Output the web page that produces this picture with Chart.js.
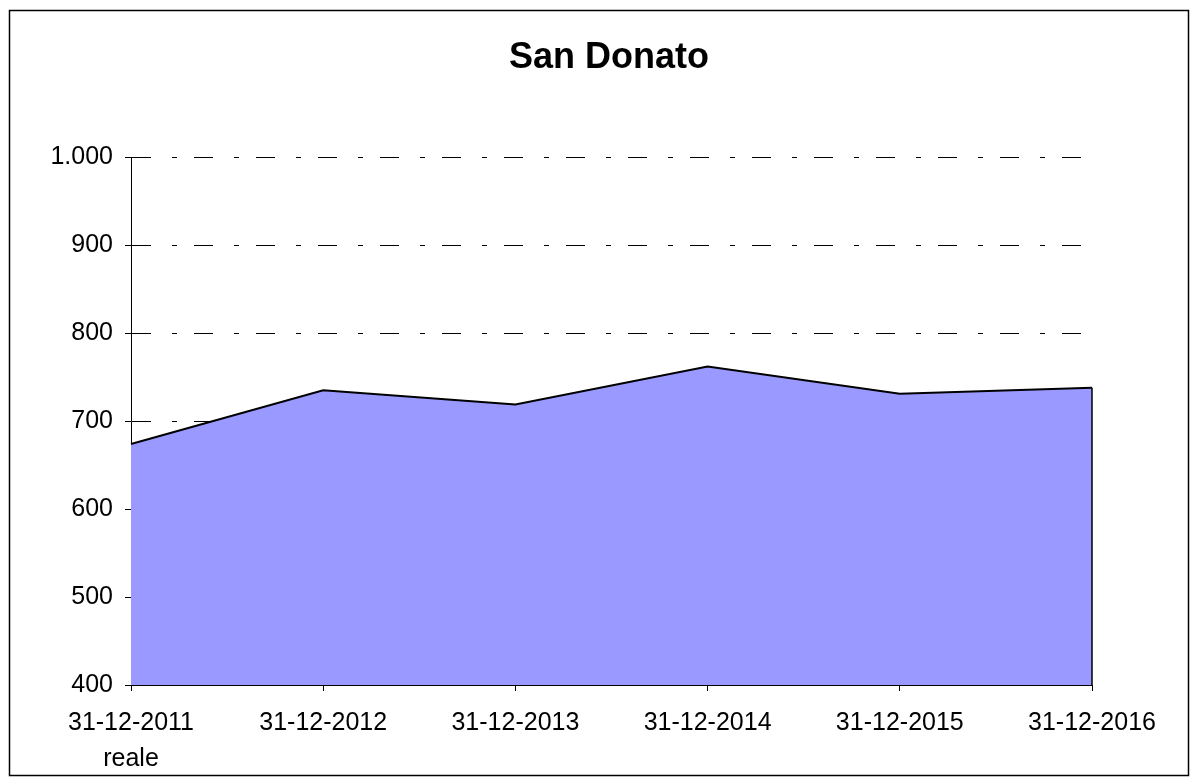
<!DOCTYPE html>
<html>
<head>
<meta charset="utf-8">
<title>San Donato</title>
<script src="https://cdn.jsdelivr.net/npm/chart.js@4"></script>
<style>
    body { margin: 0; background: #fff; }
    canvas { display: block; }
</style>
</head>
<body>
<canvas id="areaChart" width="1196" height="783"></canvas>
<script>
// dati
const dates = ['31-12-2011', '31-12-2012', '31-12-2013', '31-12-2014', '31-12-2015', '31-12-2016'];
const firstSubLabel = 'reale';
const values = [674, 735, 719, 762, 731, 738];
const yMin = 400, yMax = 1000, yStep = 100;

const FONT = '"Liberation Sans", Arial, sans-serif';

// 1000 -> "1.000"
function fmtIt(v) {
    return String(v).replace(/\B(?=(\d{3})+(?!\d))/g, '.');
}

const labels = dates.map((d, i) => i === 0 ? [d, firstSubLabel] : d);

// cornice esterna + bordo destro dell'area
const framePlugin = {
    id: 'frame',
    beforeDraw(chart) {
        const ctx = chart.ctx;
        ctx.save();
        ctx.fillStyle = '#fff';
        ctx.fillRect(0, 0, chart.width, chart.height);
        ctx.strokeStyle = '#000';
        ctx.lineWidth = 1.5;
        ctx.strokeRect(9.5, 10.5, 1179, 765);
        ctx.restore();
    },
    afterDatasetsDraw(chart) {
        const meta = chart.getDatasetMeta(0);
        const last = meta.data[meta.data.length - 1];
        const yScale = chart.scales.y;
        const ctx = chart.ctx;
        ctx.save();
        ctx.strokeStyle = '#000';
        ctx.lineWidth = 1.5;
        ctx.beginPath();
        ctx.moveTo(last.x, last.y);
        ctx.lineTo(last.x, yScale.getPixelForValue(yMin));
        ctx.stroke();
        ctx.restore();
    }
};

new Chart(document.getElementById('areaChart').getContext('2d'), {
    type: 'line',
    data: {
        labels: labels,
        datasets: [{
            data: values,
            borderColor: '#000',
            borderWidth: 2,
            backgroundColor: '#9999ff',
            fill: 'start',
            pointRadius: 0,
            tension: 0
        }]
    },
    options: {
        responsive: false,
        animation: false,
        layout: { padding: { left: 22, right: 0, top: 0, bottom: 0 } },
        plugins: {
            legend: { display: false },
            tooltip: { enabled: false },
            title: {
                display: true,
                text: 'San Donato',
                color: '#000',
                font: { family: FONT, size: 36, weight: 'bold', lineHeight: 1.2 },
                padding: { top: 36, bottom: 78 }
            }
        },
        scales: {
            x: {
                offset: false,
                grid: {
                    drawOnChartArea: false,
                    drawTicks: true,
                    tickLength: 6,
                    color: '#000'
                },
                border: { color: '#000', width: 1 },
                ticks: {
                    color: '#000',
                    font: { family: FONT, size: 25, lineHeight: 1.45 },
                    padding: 14,
                    maxRotation: 0,
                    autoSkip: false
                },
                afterFit(scale) { scale.height = 98; }
            },
            y: {
                min: yMin,
                max: yMax,
                grid: {
                    color: '#000',
                    lineWidth: 1,
                    tickLength: 6,
                    tickBorderDash: []
                },
                border: { color: '#000', width: 1, dash: [19, 21, 5, 17] },
                ticks: {
                    stepSize: yStep,
                    color: '#000',
                    font: { family: FONT, size: 25 },
                    padding: 12,
                    callback: v => fmtIt(v)
                },
                afterFit(scale) { scale.width = 109; }
            },
            // asse vuoto a destra: lascia lo spazio a destra del grafico
            yRight: {
                position: 'right',
                min: yMin,
                max: yMax,
                grid: { display: false },
                border: { display: false },
                ticks: { display: false },
                afterFit(scale) { scale.width = 104; }
            }
        }
    },
    plugins: [framePlugin]
});
</script>
</body>
</html>
